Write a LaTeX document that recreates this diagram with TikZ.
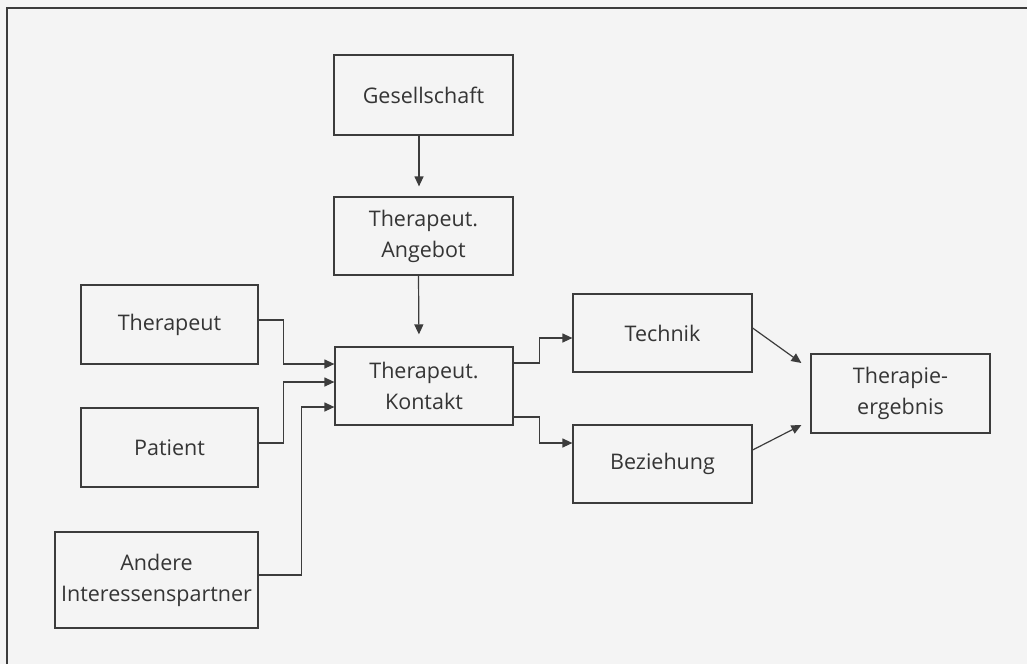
\documentclass[tikz,border=0pt]{standalone}
\usepackage{fontspec}
\setmainfont{Open Sans}
\usetikzlibrary{arrows.meta}
\definecolor{ink}{HTML}{3C3C3C}
\definecolor{txt}{HTML}{353535}
\definecolor{paper}{HTML}{F4F4F4}
\begin{document}
\begin{tikzpicture}[x=1pt,y=-1pt,
  box/.style={draw=ink,line width=1.2pt,rectangle,inner sep=0pt,align=center,
    text=txt,font=\fontsize{21.5}{31}\selectfont},
  arr/.style={draw=ink,line width=1.2pt,-{Triangle[length=10pt,width=9pt]}}]
\fill[paper] (0,0) rectangle (1027,664);
\useasboundingbox (0,0) rectangle (1027,664);
\draw[ink,line width=1.6pt] (7,664) -- (7,8) -- (1027,8);
% nodes
\node[box,minimum width=179pt,minimum height=80pt] (ges) at (423.5,95) {Gesellschaft};
\node[box,minimum width=179pt,minimum height=78pt] (ang) at (423.5,236) {Therapeut.\\Angebot};
\node[box,minimum width=178pt,minimum height=78pt] (kon) at (424,386) {Therapeut.\\Kontakt};
\node[box,minimum width=177pt,minimum height=79pt] (the) at (169.5,324.5) {Therapeut};
\node[box,minimum width=177pt,minimum height=79pt] (pat) at (169.5,447.5) {Patient};
\node[box,minimum width=203pt,minimum height=96pt] (and) at (156.5,580) {Andere\\Interessenspartner};
\node[box,minimum width=179pt,minimum height=78pt] (tec) at (662.5,333) {Technik};
\node[box,minimum width=179pt,minimum height=78pt] (bez) at (662.5,464) {Beziehung};
\node[box,minimum width=179pt,minimum height=79pt] (erg) at (900.5,393.5) {Therapie-\\ergebnis};
% connectors
\draw[arr,shorten >=10pt] ([xshift=-4.5pt]ges.south) -- ([xshift=-4.5pt]ang.north);
\draw[arr,shorten >=12pt] ([xshift=-5pt]ang.south) -- ([xshift=-5pt]kon.north);
\draw[arr] ([yshift=4.5pt]the.east) -- ++(25,0) |- ([yshift=22pt]kon.west);
\draw[arr] ([yshift=4.5pt]pat.east) -- ++(25,0) |- ([yshift=4pt]kon.west);
\draw[arr] ([yshift=5pt]and.east) -- ++(43,0) |- ([yshift=-21pt]kon.west);
\draw[arr] ([yshift=23pt]kon.east) -- ++(26,0) |- ([yshift=-5pt]tec.west);
\draw[arr] ([yshift=-31pt]kon.east) -- ++(26,0) |- ([yshift=21pt]bez.west);
\draw[arr] ([yshift=5pt]tec.east) -- ([xshift=-9pt,yshift=30.5pt]erg.west);
\draw[arr] ([yshift=14pt]bez.east) -- ([xshift=-9pt,yshift=-31.5pt]erg.west);
\end{tikzpicture}
\end{document}
